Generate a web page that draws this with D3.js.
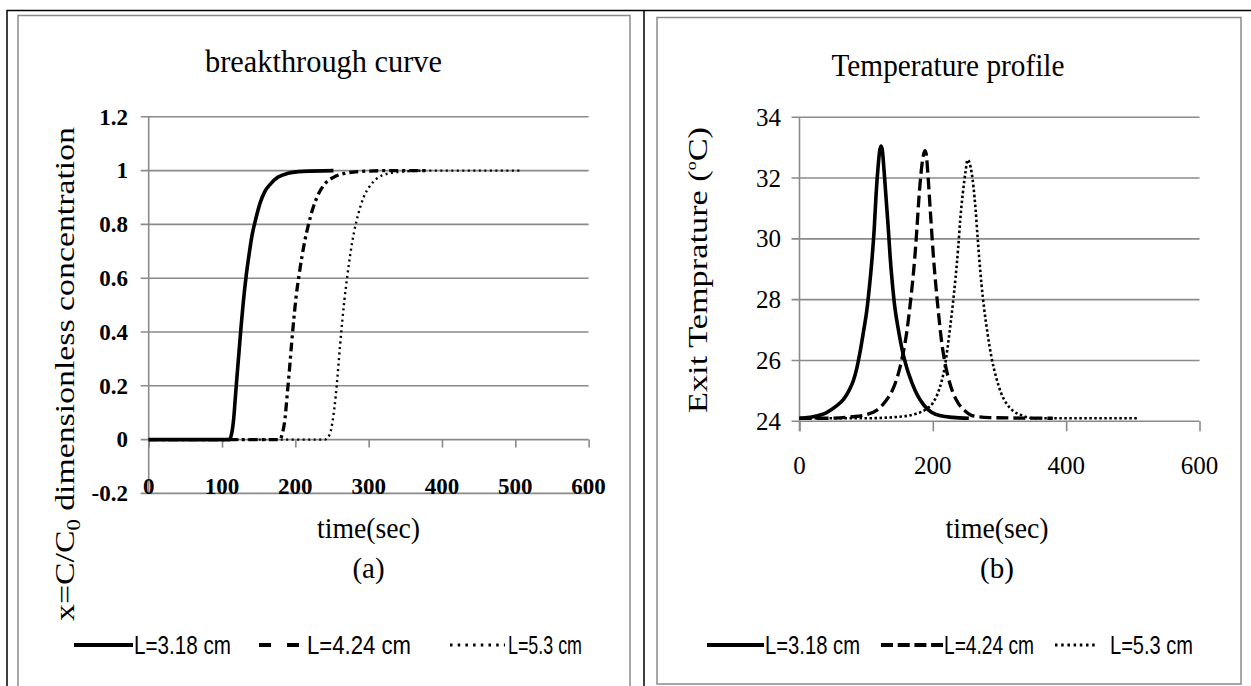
<!DOCTYPE html>
<html>
<head>
<meta charset="utf-8">
<script src="https://cdn.jsdelivr.net/npm/d3@7/dist/d3.min.js"></script>
<style>
  html, body { margin: 0; padding: 0; background: #fff; }
  svg { display: block; }
</style>
</head>
<body>
<div id="chart"></div>
<script>
// breakthrough curve (a): [time sec, C/C0]
const breakL318 = [[0,0],[60,0],[110,0],[113,0.02],[116,0.08],[118,0.15],[120,0.22],[123,0.32],[126,0.42],[129,0.51],[133,0.61],[137,0.69],[141,0.76],[146,0.82],[152,0.88],[158,0.92],[166,0.95],[176,0.975],[190,0.99],[210,0.997],[252,1]];
const breakL424 = [[0,0],[100,0],[178,0],[182,0.02],[186,0.08],[189,0.17],[192,0.26],[195,0.36],[198,0.45],[201,0.53],[205,0.61],[209,0.68],[213,0.74],[218,0.8],[224,0.86],[231,0.91],[240,0.95],[252,0.975],[268,0.99],[290,0.997],[330,1],[380,1]];
const breakL53 = [[0,0],[120,0],[240,0],[245,0.01],[249,0.04],[252,0.09],[255,0.16],[258,0.25],[261,0.35],[264,0.44],[267,0.52],[271,0.61],[275,0.69],[280,0.77],[286,0.84],[293,0.9],[301,0.94],[311,0.97],[325,0.988],[345,0.996],[380,1],[508,1]];

// temperature profile (b): [time sec, exit temperature C]
const tempL318 = [[0,24.1],[20,24.15],[40,24.28],[55,24.5],[66,24.72],[74,25.0],[81,25.35],[86,25.75],[91,26.3],[96,26.95],[101,27.65],[105,28.45],[109,29.4],[112,30.3],[115,31.5],[118,32.4],[120,32.85],[122,33.05],[124,32.95],[127,32.2],[130,31.3],[133,30.4],[136,29.4],[139,28.6],[143,27.75],[148,27.05],[154,26.35],[161,25.75],[169,25.25],[177,24.85],[187,24.52],[198,24.3],[212,24.18],[230,24.13],[254,24.1]];
const tempL424 = [[0,24.1],[40,24.1],[80,24.15],[100,24.22],[115,24.35],[125,24.55],[133,24.78],[140,25.05],[146,25.4],[151,25.8],[156,26.3],[161,26.95],[165,27.65],[169,28.45],[173,29.4],[176,30.3],[179,31.3],[182,32.1],[185,32.65],[188,32.9],[190,32.8],[193,32.0],[196,31.0],[199,30.0],[202,29.1],[205,28.35],[209,27.45],[213,26.65],[218,25.95],[223,25.45],[230,24.95],[238,24.6],[248,24.35],[262,24.17],[285,24.12],[380,24.1]];
const tempL53 = [[0,24.1],[100,24.1],[150,24.15],[175,24.25],[190,24.4],[200,24.6],[207,24.9],[213,25.3],[218,25.8],[222,26.4],[226,27.1],[230,27.85],[234,28.7],[238,29.7],[241,30.6],[245,31.5],[249,32.2],[252,32.6],[255,32.5],[258,32.2],[261,31.7],[264,31.0],[267,30.1],[270,29.25],[273,28.5],[277,27.7],[282,26.9],[288,26.1],[295,25.45],[302,24.95],[310,24.6],[320,24.35],[333,24.2],[352,24.1],[508,24.1]];

const legendLabels = ["L=3.18 cm", "L=4.24 cm", "L=5.3 cm"];
const xTicksA = [0, 100, 200, 300, 400, 500, 600];
const yTicksA = [-0.2, 0, 0.2, 0.4, 0.6, 0.8, 1, 1.2];
const xTicksB = [0, 200, 400, 600];
const yTicksB = [24, 26, 28, 30, 32, 34];

const W = 1251, H = 686;
const GRID = "#8a8a8a";
const SERIF = "'Liberation Serif', 'Times New Roman', serif";
const SANS = "'Liberation Sans Narrow', 'Liberation Sans', Arial, sans-serif";

const svg = d3.select("#chart").append("svg").attr("width", W).attr("height", H);

// table frame
svg.append("path")
  .attr("d", `M7,686 V10.5 H1251 M644,10.5 V686`)
  .attr("fill", "none").attr("stroke", "#000").attr("stroke-width", 1.5);
svg.append("rect").attr("x", 18).attr("y", 15.5).attr("width", 612).attr("height", 700)
  .attr("fill", "none").attr("stroke", GRID).attr("stroke-width", 1.5);
svg.append("rect").attr("x", 657).attr("y", 17.5).attr("width", 584).attr("height", 666.5)
  .attr("fill", "none").attr("stroke", GRID).attr("stroke-width", 1.5);

function addText(parent, x, y, str, opt) {
  const t = parent.append("text")
    .attr("x", x).attr("y", y)
    .attr("text-anchor", opt.anchor || "middle")
    .attr("font-family", opt.family || SERIF)
    .attr("font-size", opt.size)
    .attr("font-weight", opt.weight || "normal")
    .attr("fill", "#000")
    .text(str);
  if (opt.len) t.attr("textLength", opt.len).attr("lengthAdjust", "spacingAndGlyphs");
  if (opt.rotate) t.attr("transform", `rotate(-90,${x},${y})`);
  return t;
}

function drawPanel(cfg) {
  const g = svg.append("g");
  const x = d3.scaleLinear().domain([0, 600]).range(cfg.xRange);
  const y = d3.scaleLinear().domain(cfg.yDomain).range(cfg.yRange);
  const x0 = cfg.xRange[0], x1 = cfg.xRange[1];

  // horizontal gridlines (with outer tick stubs)
  g.selectAll("line.grid").data(cfg.yTicks.filter(v => v !== cfg.axisAt))
    .join("line")
    .attr("x1", x0 - 8).attr("x2", x1)
    .attr("y1", d => y(d)).attr("y2", d => y(d))
    .attr("stroke", GRID).attr("stroke-width", 1.6);

  // vertical axis
  g.append("line")
    .attr("x1", x0).attr("x2", x0)
    .attr("y1", y(cfg.yDomain[1])).attr("y2", Math.max(y(cfg.yDomain[0]), y(cfg.axisAt) + cfg.tickLen))
    .attr("stroke", GRID).attr("stroke-width", 1.6);

  // horizontal axis with ticks down
  const xa = g.append("g").attr("transform", `translate(0,${y(cfg.axisAt)})`)
    .call(d3.axisBottom(x).tickValues(cfg.xTicks).tickSize(cfg.tickLen).tickSizeOuter(0).tickFormat(""));
  xa.select(".domain").attr("stroke", GRID).attr("stroke-width", 1.6).attr("d", `M${x0 - 8},0H${x1}`);
  xa.selectAll(".tick line").attr("stroke", GRID).attr("stroke-width", 1.6);

  // tick labels
  g.selectAll("text.xt").data(cfg.xTicks).join("text")
    .attr("x", d => x(d)).attr("y", cfg.xLabelY)
    .attr("text-anchor", "middle")
    .attr("font-family", SERIF).attr("font-size", cfg.tickSize).attr("font-weight", cfg.tickWeight)
    .text(d => d);
  g.selectAll("text.yt").data(cfg.yTicks).join("text")
    .attr("x", cfg.yLabelX).attr("y", d => y(d) + cfg.tickSize * 0.34)
    .attr("text-anchor", "end")
    .attr("font-family", SERIF).attr("font-size", cfg.tickSize).attr("font-weight", cfg.tickWeight)
    .text(d => String(+d.toFixed(1)));

  // curves
  const line = d3.line().x(d => x(d[0])).y(d => y(d[1])).curve(d3.curveMonotoneX);
  cfg.series.forEach(s => {
    g.append("path").datum(s.data)
      .attr("d", line)
      .attr("fill", "none").attr("stroke", "#000")
      .attr("stroke-width", s.width)
      .attr("stroke-dasharray", s.dash || null)
      .attr("stroke-linejoin", "round");
  });

  // titles
  addText(g, cfg.titleX, cfg.titleY, cfg.title, { size: 32, len: cfg.titleLen });
  addText(g, cfg.xTitleX, cfg.xTitleY, "time(sec)", { size: 29, len: 103 });
  addText(g, cfg.xTitleX, cfg.subY, cfg.sub, { size: 29 });

  // legend
  const lg = g.append("g");
  cfg.legend.forEach((it, i) => {
    const s = cfg.series[i];
    lg.append("line")
      .attr("x1", it.x1).attr("x2", it.x2).attr("y1", cfg.legendY).attr("y2", cfg.legendY)
      .attr("stroke", "#000").attr("stroke-width", s.width + 0.5)
      .attr("stroke-dasharray", it.dash || null);
    addText(lg, it.tx, cfg.legendY + 9, legendLabels[i],
      { size: 25, family: SANS, anchor: "start", len: it.tlen });
  });
  return g;
}

const gA = drawPanel({
  xRange: [148.7, 588.6], yDomain: [-0.2, 1.2], yRange: [493.4, 116.8],
  yTicks: yTicksA, xTicks: xTicksA, axisAt: 0, tickLen: 8,
  xLabelY: 494, yLabelX: 128, tickSize: 23, tickWeight: "bold",
  title: "breakthrough curve", titleX: 323.5, titleY: 72, titleLen: 237,
  xTitleX: 368.5, xTitleY: 538, sub: "(a)", subY: 578,
  legendY: 645,
  series: [
    { data: breakL318, width: 3.6 },
    { data: breakL424, width: 3.3, dash: "9,4,3,4" },
    { data: breakL53, width: 2.4, dash: "2,3.5" }
  ],
  legend: [
    { x1: 74, x2: 133, tx: 134, tlen: 97 },
    { x1: 259, x2: 299, tx: 307, tlen: 104, dash: "12,16" },
    { x1: 450, x2: 505, tx: 508, tlen: 74, dash: "2.5,5.2" }
  ]
});

const gB = drawPanel({
  xRange: [799.5, 1199.5], yDomain: [24, 34], yRange: [421.3, 117.2],
  yTicks: yTicksB, xTicks: xTicksB, axisAt: 24, tickLen: 10,
  xLabelY: 474, yLabelX: 781, tickSize: 25, tickWeight: "normal",
  title: "Temperature profile", titleX: 948, titleY: 76, titleLen: 233,
  xTitleX: 997, xTitleY: 538, sub: "(b)", subY: 578,
  legendY: 645,
  series: [
    { data: tempL318, width: 3.6 },
    { data: tempL424, width: 3.3, dash: "12,5" },
    { data: tempL53, width: 2.6, dash: "2.5,2.5" }
  ],
  legend: [
    { x1: 707, x2: 764, tx: 765, tlen: 95 },
    { x1: 881, x2: 943, tx: 944, tlen: 90, dash: "12,4.7" },
    { x1: 1055, x2: 1098, tx: 1110, tlen: 83, dash: "2.5,3.7" }
  ]
});

// rotated y-axis titles
const ya = addText(svg, 74, 374, "x=C/C", { size: 27, len: 494, rotate: true });
ya.append("tspan").attr("font-size", 18).attr("dy", 6).text("0");
ya.append("tspan").attr("dy", -6).text(" dimensionless concentration");

const yb = addText(svg, 707, 270, "Exit Temprature (", { size: 27, len: 286, rotate: true });
yb.append("tspan").attr("font-size", 14).attr("dy", -11).text("o");
yb.append("tspan").attr("dy", 11).text("C)");
</script>
</body>
</html>
